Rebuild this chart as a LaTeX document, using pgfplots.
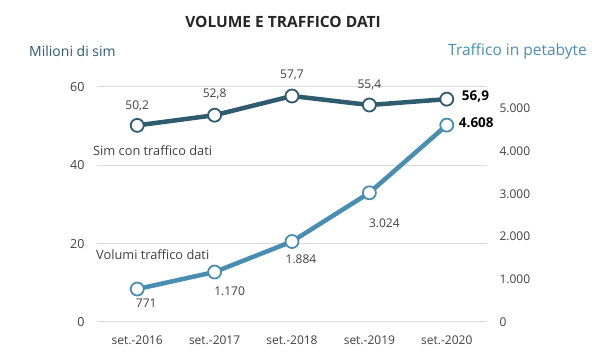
\documentclass[border=0pt]{standalone}
\usepackage{fontspec}
\setmainfont{Open Sans}
\usepackage{pgfplots}
\pgfplotsset{compat=1.18}
\usetikzlibrary{calc}
\definecolor{simc}{HTML}{2E5B6E}
\definecolor{trc}{HTML}{4A8DB2}
\definecolor{gridc}{HTML}{D9D9D9}
\definecolor{tickc}{HTML}{404040}
\tikzset{
  lab/.style={font=\fontsize{12}{14}\selectfont, text=tickc, inner sep=0pt},
  blab/.style={font=\fontsize{13.5}{15}\selectfont\bfseries, text=black, inner sep=0pt, anchor=west},
}
\begin{document}
\begin{tikzpicture}
\pgfplotsset{
  base/.style={
    scale only axis,
    width=390pt, height=235pt,
    xmin=-0.52, xmax=4.52,
    axis line style={draw=none}, major tick length=0pt,
    tick label style={font=\fontsize{12}{14}\selectfont, text=tickc},
    /pgf/number format/assume math mode=true,
    clip=false,
  },
}
\begin{axis}[base, name=ax,
  ymin=0, ymax=60, ytick={0,20,40,60},
  ymajorgrids, grid style={gridc, line width=1pt},
  xtick={0,1,2,3,4},
  xticklabels={set.-2016,set.-2017,set.-2018,set.-2019,set.-2020},
  xticklabel style={yshift=-10pt},
  yticklabel style={anchor=east, xshift=-9pt, font=\fontsize{12.5}{14}\selectfont},
]
\addplot[simc, line width=4.5pt, mark=*, mark size=6.5pt,
  mark options={fill=white, draw=simc, line width=1.8pt}]
  coordinates {(0,50.2)(1,52.8)(2,57.7)(3,55.4)(4,56.9)};
\node[lab] at (axis cs:0,50.2) [yshift=19pt] {50,2};
\node[lab] at (axis cs:1,52.8) [yshift=21pt] {52,8};
\node[lab] at (axis cs:2,57.7) [yshift=21pt] {57,7};
\node[lab] at (axis cs:3,55.4) [yshift=20pt] {55,4};
\node[blab] at (axis cs:4,56.9) [xshift=15pt, yshift=3pt] {56,9};
\end{axis}
\begin{axis}[base, at={(ax.south west)}, anchor=south west,
  ymin=0, ymax=5500, ytick={0,1000,2000,3000,4000,5000},
  hide x axis, axis y line*=right,
  scaled y ticks=false,
  yticklabel style={anchor=west, xshift=9pt, /pgf/number format/1000 sep={.}},
]
\addplot[trc, line width=4.5pt, mark=*, mark size=6.5pt,
  mark options={fill=white, draw=trc, line width=1.8pt}]
  coordinates {(0,771)(1,1170)(2,1884)(3,3024)(4,4608)};
\node[lab] at (axis cs:0,771) [xshift=9pt, yshift=-14pt] {771};
\node[lab] at (axis cs:1,1170) [xshift=15pt, yshift=-19pt] {1.170};
\node[lab] at (axis cs:2,1884) [xshift=9pt, yshift=-18pt] {1.884};
\node[lab] at (axis cs:3,3024) [xshift=15pt, yshift=-30pt] {3.024};
\node[blab] at (axis cs:4,4608) [xshift=12pt, yshift=2pt] {4.608};
\end{axis}
\coordinate (P) at ($(ax.south west)+(-97pt,-31pt)$);
\begin{scope}[shift={(P)}, x=1pt, y=1pt]
\node[font=\fontsize{12.8}{15}\selectfont, text=tickc, anchor=west, inner sep=0pt] at (93,202) {Sim con traffico dati};
\node[font=\fontsize{12.8}{15}\selectfont, text=tickc, anchor=west, inner sep=0pt] at (96,98) {Volumi traffico dati};
\node[font=\fontsize{15.5}{17}\selectfont\bfseries, text=black!85, inner sep=0pt] at (283,331) {VOLUME E TRAFFICO DATI};
\node[font=\fontsize{14}{16}\selectfont, text=simc, anchor=west, inner sep=0pt] at (29,302) {Milioni di sim};
\node[font=\fontsize{15.5}{17}\selectfont, text=trc, anchor=east, inner sep=0pt] at (587,302) {Traffico in petabyte};
\end{scope}
\pgfresetboundingbox
\path[use as bounding box] (P) rectangle ($(P)+(592pt,353pt)$);
\end{tikzpicture}
\end{document}
